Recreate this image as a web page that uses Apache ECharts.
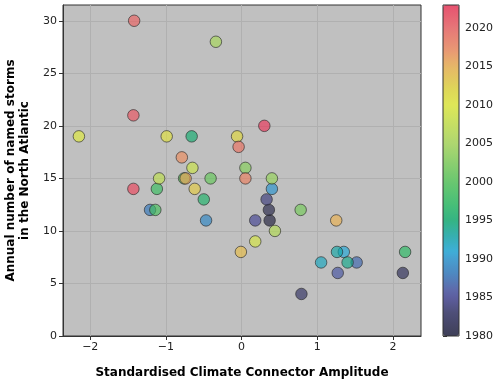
<!DOCTYPE html>
<html>
<head>
<meta charset="utf-8">
<script src="https://cdn.jsdelivr.net/npm/echarts@6/dist/echarts.min.js"></script>
<style>
  html, body { margin: 0; padding: 0; background: #fff; }
  #main { width: 500px; height: 385px; }
</style>
</head>
<body>
<div id="main"></div>
<script>
// one point per season, 1980 - 2023
var years = [1980, 1981, 1982, 1983, 1984, 1985, 1986, 1987, 1988, 1989,
             1990, 1991, 1992, 1993, 1994, 1995, 1996, 1997, 1998, 1999,
             2000, 2001, 2002, 2003, 2004, 2005, 2006, 2007, 2008, 2009,
             2010, 2011, 2012, 2013, 2014, 2015, 2016, 2017, 2018, 2019,
             2020, 2021, 2022, 2023];
// standardised climate connector amplitude
var amplitude = [0.37, 0.36, 2.13, 0.79, 0.33, 0.18, 1.27, 1.52, -1.21, -0.47,
                 0.40, 1.35, 1.05, 1.26, 1.40, -0.66, -0.50, 2.16, -1.12, -1.14,
                 -0.76, -0.41, 0.78, 0.05, 0.40, -0.34, 0.44, -1.09, -0.65, 0.18,
                 -2.15, -0.99, -0.06, -0.62, -0.01, 1.25, -0.74, -0.79, 0.05, -0.04,
                 -1.42, -1.43, -1.43, 0.30];
// annual number of named storms
var storms = [11, 12, 6, 4, 13, 11, 6, 7, 12, 11,
              14, 8, 7, 8, 7, 19, 13, 8, 14, 12,
              15, 15, 12, 16, 15, 28, 10, 15, 16, 9,
              19, 19, 19, 14, 8, 11, 15, 17, 15, 18,
              30, 21, 14, 20];

var xTicks = [-2, -1, 0, 1, 2];
var yTicks = [0, 5, 10, 15, 20, 25, 30];
var cbTicks = [1980, 1985, 1990, 1995, 2000, 2005, 2010, 2015, 2020];

// colormap anchors: [year, r, g, b]
var anchors = [
  [1980, 26, 26, 56], [1983, 46, 46, 96], [1985, 64, 64, 146], [1986, 66, 80, 160],
  [1988, 46, 116, 186], [1990, 36, 146, 206], [1991, 26, 166, 216], [1993, 16, 166, 166],
  [1995, 14, 172, 110], [1997, 36, 186, 96], [2000, 80, 196, 86], [2005, 166, 216, 86],
  [2010, 226, 236, 56], [2012, 226, 216, 56], [2015, 236, 176, 76], [2017, 238, 140, 90],
  [2020, 236, 96, 96], [2023, 236, 49, 86]
];
function rampColor(y) {
  for (var k = 0; k < anchors.length - 1; k++) {
    var a = anchors[k], b = anchors[k + 1];
    if (y >= a[0] && y <= b[0]) {
      var t = (y - a[0]) / (b[0] - a[0]);
      var c = [1, 2, 3].map(function (j) { return Math.round(a[j] + t * (b[j] - a[j])); });
      return 'rgba(' + c.join(',') + ',0.8)';
    }
  }
  return 'rgba(0,0,0,0.8)';
}
var ramp = [];
for (var y = 1980; y <= 2023; y++) ramp.push(rampColor(y));

var points = [];
for (var i = 0; i < years.length; i++) {
  points.push([amplitude[i], storms[i], years[i]]);
}

var font = 'DejaVu Sans';
var mychart = echarts.init(document.getElementById('main'));

var option = {
  animation: false,
  textStyle: { fontFamily: font },
  grid: [
    { left: 63, right: 79, top: 5, bottom: 49, show: true, outerBoundsMode: 'none',
      backgroundColor: '#c0c0c0', borderColor: '#333', borderWidth: 1 },
    // colour bar frame + ticks
    { left: 443, width: 16, top: 5, bottom: 49, show: true, outerBoundsMode: 'none',
      backgroundColor: 'transparent', borderColor: '#333', borderWidth: 1, z: 10 }
  ],
  xAxis: [
    {
      gridIndex: 0, type: 'value', min: -2.36, max: 2.37,
      name: 'Standardised Climate Connector Amplitude',
      nameLocation: 'middle', nameGap: 31,
      nameTextStyle: { fontWeight: 'bold', fontSize: 12, color: '#000' },
      axisLine: { show: true, onZero: false, lineStyle: { color: '#333' } },
      axisTick: { show: true, length: 4, customValues: xTicks, lineStyle: { color: '#333' } },
      axisLabel: { customValues: xTicks, fontSize: 11, color: '#222', margin: 6,
        formatter: function (v) { return v < 0 ? '\u2212' + (-v) : '' + v; } },
      splitLine: { show: true, lineStyle: { color: '#b0b0b0', width: 1 } }
    },
    { gridIndex: 1, type: 'value', show: false, min: 0, max: 1 }
  ],
  yAxis: [
    {
      gridIndex: 0, type: 'value', min: 0, max: 31.5, interval: 5,
      name: 'Annual number of named storms\nin the North Atlantic',
      nameLocation: 'middle', nameGap: 31,
      nameTextStyle: { fontWeight: 'bold', fontSize: 12, color: '#000', lineHeight: 14 },
      axisLine: { show: true, onZero: false, lineStyle: { color: '#333' } },
      axisTick: { show: true, length: 4, customValues: yTicks, lineStyle: { color: '#333' } },
      axisLabel: { customValues: yTicks, fontSize: 11, color: '#222', margin: 6 },
      splitLine: { show: true, lineStyle: { color: '#b0b0b0', width: 1 } }
    },
    {
      gridIndex: 1, type: 'value', min: 1980, max: 2023, position: 'right',
      axisLine: { show: false },
      axisTick: { show: true, length: 4, customValues: cbTicks, lineStyle: { color: '#333' } },
      axisLabel: { customValues: cbTicks, fontSize: 11, color: '#222', margin: 6,
        formatter: function (v) { return String(v); } },
      splitLine: { show: false }
    }
  ],
  visualMap: {
    type: 'continuous', min: 1980, max: 2023, dimension: 2, seriesIndex: 0,
    orient: 'vertical', left: 443, top: 5, padding: 0,
    itemWidth: 16, itemHeight: 331, calculable: false, hoverLink: false,
    text: null, showLabel: false,
    inRange: { color: ramp }
  },
  series: [
    {
      type: 'scatter', xAxisIndex: 0, yAxisIndex: 0,
      symbolSize: 11.5,
      itemStyle: { borderColor: 'rgba(40,40,40,0.8)', borderWidth: 1 },
      data: points
    }
  ]
};
mychart.setOption(option);
</script>
</body>
</html>
